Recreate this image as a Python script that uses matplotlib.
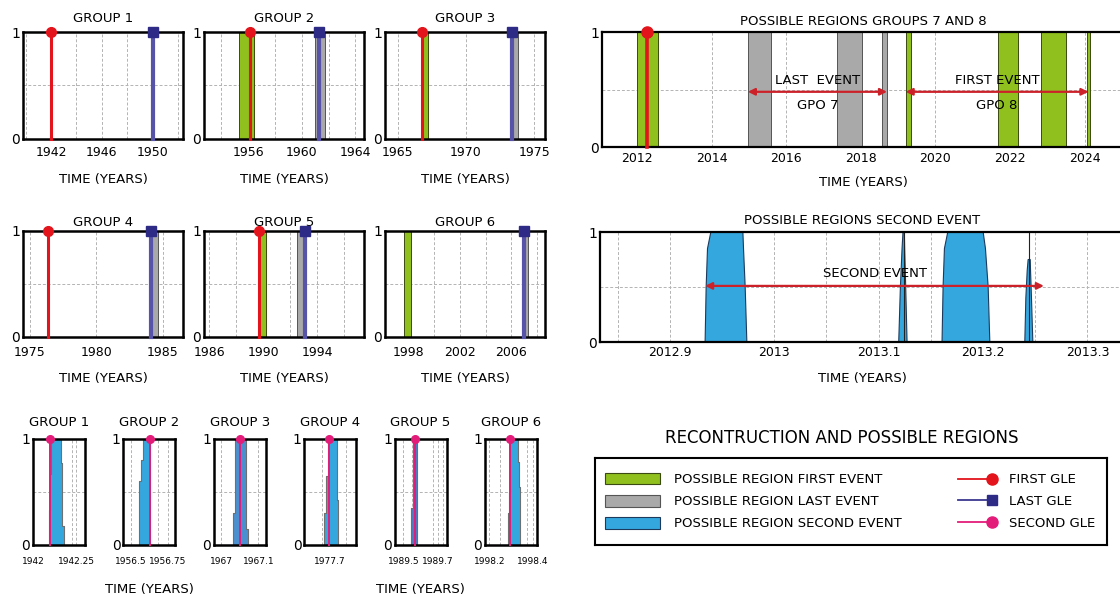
import matplotlib
matplotlib.use("Agg")
import numpy as np
import matplotlib.pyplot as plt
from matplotlib.lines import Line2D
from matplotlib.patches import Patch
from matplotlib.legend_handler import HandlerLine2D

# ---------------- data ----------------
group_names = ["GROUP 1", "GROUP 2", "GROUP 3", "GROUP 4", "GROUP 5", "GROUP 6"]
group_xlim = [(1939.8, 1952.4), (1952.7, 1964.65), (1964.05, 1975.8),
              (1974.5, 1986.5), (1985.6, 1997.5), (1996.2, 2008.6)]
group_ticks = [[1942, 1946, 1950], [1956, 1960, 1964], [1965, 1970, 1975],
               [1975, 1980, 1985], [1986, 1990, 1994], [1998, 2002, 2006]]
group_grid_step = [2, 2, 5, 5, 2, 2]
first_gle = [1942.0, 1956.1, 1966.74, 1976.35, 1989.7, None]
last_gle = [1950.0, 1961.32, 1973.4, 1984.09, 1993.1, 2006.94]
first_region = [None, (1955.35, 1956.4), (1966.67, 1967.18), None, (1989.7, 1990.2), (1997.7, 1998.2)]
last_region = [None, (1961.0, 1961.75), (1973.35, 1973.85), (1984.0, 1984.65), (1992.55, 1993.2), (2006.8, 2007.3)]

# groups 7 and 8
g78_first_gle = 2012.27
g78_first_regions = [(2012.0, 2012.56), (2019.2, 2019.33), (2021.68, 2022.2),
                     (2022.82, 2023.5), (2024.05, 2024.13)]
g78_last_regions = [(2014.97, 2015.59), (2017.35, 2018.03), (2018.56, 2018.7)]
last_event_span = (2014.97, 2018.7)
first_event_span = (2019.2, 2024.1)

# second event regions (x of left / right edge at each height level)
second_levels = [[0, 0.5, 0.85, 1.0], [0, 0.5, 0.85, 1.0], [0, 0.5, 0.85, 1.0], [0, 0.4, 0.65, 0.75]]
second_left = [[2012.9337, 2012.9347, 2012.9360, 2012.9392],
               [2013.1192, 2013.1208, 2013.1224, 2013.1233],
               [2013.1607, 2013.1617, 2013.1630, 2013.1662],
               [2013.2400, 2013.2410, 2013.2423, 2013.2432]]
second_right = [[2012.9737, 2012.9721, 2012.9705, 2012.9699],
                [2013.1272, 2013.1259, 2013.1249, 2013.1246],
                [2013.2065, 2013.2049, 2013.2023, 2013.2001],
                [2013.2477, 2013.2464, 2013.2455, 2013.2452]]
second_edges = [2013.1246, 2013.2445]
second_event_span = (2012.9337, 2013.2583)

# reconstruction panels
narrow_xlim = [(1942.0, 1942.3), (1956.45, 1956.8), (1966.98, 1967.12),
               (1977.62, 1977.78), (1989.45, 1989.75), (1998.18, 1998.42)]
narrow_ticks = [[1942, 1942.25], [1956.5, 1956.75], [1967, 1967.1],
                [1977.7], [1989.5, 1989.7], [1998.2, 1998.4]]
narrow_labels = [["1942", "1942.25"], ["1956.5", "1956.75"], ["1967", "1967.1"],
                 ["1977.7"], ["1989.5", "1989.7"], ["1998.2", "1998.4"]]
narrow_grid = [[1942.1, 1942.225], [1956.5, 1956.68, 1956.75], [1967.0, 1967.05, 1967.1],
               [1977.675, 1977.75], [1989.5, 1989.55, 1989.67, 1989.73], [1998.25, 1998.375]]
second_gle = [1942.1, 1956.626, 1967.051, 1977.697, 1989.565, 1998.294]
recon_y = [[0, 0.18, 0.33, 0.67, 0.77, 1], [0, 0.6, 0.8, 1], [0, 0.15, 0.3, 1],
           [0, 0.3, 0.42, 0.65, 1], [0, 0.35, 1], [0, 0.3, 0.5, 0.55, 0.78, 1]]
recon_left = [[1942.094, 1942.094, 1942.098, 1942.104, 1942.104, 1942.104],
              [1956.555, 1956.569, 1956.585, 1956.585],
              [1967.032, 1967.032, 1967.037, 1967.037],
              [1977.6815, 1977.6866, 1977.6866, 1977.6917, 1977.6917],
              [1989.542, 1989.555, 1989.555],
              [1998.285, 1998.292, 1998.295, 1998.295, 1998.295, 1998.295]]
recon_right = [[1942.179, 1942.169, 1942.169, 1942.169, 1942.160, 1942.160],
               [1956.626, 1956.626, 1956.626, 1956.626],
               [1967.071, 1967.067, 1967.067, 1967.067],
               [1977.7246, 1977.7246, 1977.7195, 1977.7195, 1977.7195],
               [1989.579, 1989.579, 1989.579],
               [1998.343, 1998.343, 1998.343, 1998.335, 1998.331, 1998.331]]

# ---------------- style ----------------
GREEN, GREEN_EDGE = "#8fc01e", "#3b4a12"
GREY, GREY_EDGE = "#a9a9a9", "#555555"
BLUE, BLUE_EDGE = "#34a7df", "#1d3a5c"
RED = "#e3141b"
NAVY, LAVENDER = "#2d2b85", "#5753a8"
PINK = "#e31c79"
ARROW = "#cc2129"
GRID = dict(color="#b3b3b3", lw=0.7, ls=(0, (3, 2)))

W, H = 1120, 597
fig = plt.figure(figsize=(W / 100, H / 100), dpi=100)


def px_axes(x0, y0, x1, y1):
    return fig.add_axes([x0 / W, 1 - y1 / H, (x1 - x0) / W, (y1 - y0) / H])


def style(ax, xlim, ticks, labels, grid_x, tick_fs=9, tick_pad=5, spine_lw=1.8):
    ax.set_xlim(*xlim)
    ax.set_ylim(0, 1)
    ax.set_xticks(ticks)
    ax.set_xticklabels(labels, fontsize=tick_fs)
    ax.set_xticks(grid_x, minor=True)
    ax.set_yticks([0, 1])
    ax.set_yticklabels(["0", "1"], fontsize=10)
    ax.set_yticks([0.5], minor=True)
    ax.tick_params(axis="x", which="both", length=0, pad=tick_pad)
    ax.tick_params(axis="y", which="both", length=0, pad=2)
    ax.grid(which="both", **GRID)
    ax.set_axisbelow(True)
    for s in ax.spines.values():
        s.set_linewidth(spine_lw)
        s.set_zorder(4)


def gle_line(ax, x, color, lw, marker, ms, mcolor):
    ax.plot([x, x], [0, 1], color=color, lw=lw, marker=marker, markevery=[1],
            ms=ms, mfc=mcolor, mec=mcolor, clip_on=False, zorder=5)


# ---- groups 1-6 ----
rows = [(32, 139, 7, 5, 10), (231, 337, 3.5, 6.5, 9)]
for i in range(6):
    r, c = divmod(i, 3)
    y0, y1, tpad, kpad, lpad = rows[r]
    x0 = 23 + c * 181
    ax = px_axes(x0, y0, x0 + 160, y1)
    lo, hi = group_xlim[i]
    step = group_grid_step[i]
    grid_x = np.arange(np.ceil(lo / step) * step, hi, step)
    style(ax, group_xlim[i], group_ticks[i], [str(t) for t in group_ticks[i]], grid_x, tick_pad=kpad)
    if first_region[i]:
        ax.axvspan(*first_region[i], facecolor=GREEN, edgecolor=GREEN_EDGE, lw=0.7)
    if last_region[i]:
        ax.axvspan(*last_region[i], facecolor=GREY, edgecolor=GREY_EDGE, lw=0.7)
    if first_gle[i] is not None:
        gle_line(ax, first_gle[i], RED, 2.2, "o", 7, RED)
    gle_line(ax, last_gle[i], LAVENDER, 3, "s", 6.5, NAVY)
    ax.set_title(group_names[i], fontsize=9.5, pad=tpad)
    ax.set_xlabel("TIME (YEARS)", fontsize=9.5, labelpad=lpad)

# ---- groups 7 and 8 ----
ax = px_axes(602, 32, 1125, 147)
style(ax, (2011.06, 2025.08), list(range(2012, 2025, 2)), [str(t) for t in range(2012, 2025, 2)],
      list(range(2012, 2025, 2)), tick_pad=3.5, spine_lw=1.6)
for a, b in g78_first_regions:
    ax.axvspan(a, b, facecolor=GREEN, edgecolor=GREEN_EDGE, lw=0.7)
for a, b in g78_last_regions:
    ax.axvspan(a, b, facecolor=GREY, edgecolor=GREY_EDGE, lw=0.7)
gle_line(ax, g78_first_gle, RED, 2.6, "o", 8, RED)
arrow = dict(arrowstyle="<|-|>", color=ARROW, lw=1.6, mutation_scale=10, shrinkA=0, shrinkB=0)
for span, top, bottom in [(last_event_span, "LAST  EVENT", "GPO 7"),
                          (first_event_span, "FIRST EVENT", "GPO 8")]:
    ax.annotate("", xy=(span[1], 0.48), xytext=(span[0], 0.48), arrowprops=arrow, zorder=6)
    mid = (span[0] + span[1]) / 2
    ax.text(mid, 0.52, top, ha="center", va="bottom", fontsize=9.5, zorder=6)
    ax.text(mid, 0.42, bottom, ha="center", va="top", fontsize=9.5, zorder=6)
ax.set_title("POSSIBLE REGIONS GROUPS 7 AND 8", fontsize=9.5, pad=5)
ax.set_xlabel("TIME (YEARS)", fontsize=9.5, labelpad=8)

# ---- second event ----
ax = px_axes(600, 232, 1125, 342)
sec_ticks = [2012.9, 2013.0, 2013.1, 2013.2, 2013.3]
style(ax, (2012.833, 2013.336), sec_ticks, ["2012.9", "2013", "2013.1", "2013.2", "2013.3"],
      np.arange(2012.85, 2013.34, 0.05), tick_pad=3, spine_lw=1.6)
for lv, le, ri in zip(second_levels, second_left, second_right):
    ax.fill(le + ri[::-1], lv + lv[::-1], facecolor=BLUE, edgecolor=BLUE_EDGE, lw=0.8, zorder=2)
ax.vlines(second_edges, 0, 1, color="#222222", lw=0.8, zorder=2)
ax.annotate("", xy=(second_event_span[1], 0.51), xytext=(second_event_span[0], 0.51),
            arrowprops=arrow, zorder=6)
ax.text(sum(second_event_span) / 2, 0.56, "SECOND EVENT", ha="center", va="bottom", fontsize=9.5, zorder=6)
ax.set_title("POSSIBLE REGIONS SECOND EVENT", fontsize=9.5, pad=6)
ax.set_xlabel("TIME (YEARS)", fontsize=9.5, labelpad=9)

# ---- reconstruction panels ----
fill_colors = [BLUE, BLUE, "#4a8fd0", BLUE, "#4a7fc4", BLUE]
for i in range(6):
    x0 = 33 + i * 90.4
    ax = px_axes(x0, 439, x0 + 52, 545)
    style(ax, narrow_xlim[i], narrow_ticks[i], narrow_labels[i], narrow_grid[i],
          tick_fs=6.5, tick_pad=9)
    ax.fill_betweenx(recon_y[i], recon_left[i], recon_right[i], step="post",
                     facecolor=fill_colors[i], edgecolor="#6f6f6f", lw=0.8, zorder=2)
    gle_line(ax, second_gle[i], PINK, 1.4, "o", 5.5, PINK)
    ax.set_title(group_names[i], fontsize=9.5, pad=9)
    if i in (1, 4):
        ax.set_xlabel("TIME (YEARS)", fontsize=9.5, labelpad=12)


# ---- legend ----
class EndMarkerHandler(HandlerLine2D):
    def create_artists(self, legend, orig_handle, xdescent, ydescent, width, height, fontsize, trans):
        y = height / 2 - ydescent
        x0, x1 = -xdescent, width - xdescent
        line = Line2D([x0, x1], [y, y], color=orig_handle.get_color(), lw=orig_handle.get_linewidth())
        dot = Line2D([x1 - 3], [y], ls="none", marker=orig_handle.get_marker(),
                     ms=orig_handle.get_markersize(), mfc=orig_handle.get_markerfacecolor(),
                     mec=orig_handle.get_markeredgecolor())
        line.set_transform(trans)
        dot.set_transform(trans)
        return [line, dot]


ax_leg = px_axes(595, 458, 1107, 545)
ax_leg.set_xticks([])
ax_leg.set_yticks([])
for s in ax_leg.spines.values():
    s.set_linewidth(1.5)
region_handles = [Patch(facecolor=GREEN, edgecolor=GREEN_EDGE, lw=0.8, label="POSSIBLE REGION FIRST EVENT"),
                  Patch(facecolor=GREY, edgecolor=GREY_EDGE, lw=0.8, label="POSSIBLE REGION LAST EVENT"),
                  Patch(facecolor=BLUE, edgecolor=BLUE_EDGE, lw=0.8, label="POSSIBLE REGION SECOND EVENT")]
gle_handles = [Line2D([], [], color=RED, lw=1.3, marker="o", ms=8, mfc=RED, mec=RED, label="FIRST GLE"),
               Line2D([], [], color="#3a3890", lw=1.3, marker="s", ms=7, mfc=NAVY, mec=NAVY, label="LAST GLE"),
               Line2D([], [], color=PINK, lw=1.3, marker="o", ms=8, mfc=PINK, mec=PINK, label="SECOND GLE")]
common = dict(frameon=False, fontsize=9.5, borderpad=0, borderaxespad=0, labelspacing=0.67,
              loc="center left", handletextpad=1.0)
leg1 = ax_leg.legend(handles=region_handles, bbox_to_anchor=(0.0195, 0.5), handlelength=4.2,
                     handleheight=1.0, **common)
ax_leg.add_artist(leg1)
ax_leg.legend(handles=gle_handles, bbox_to_anchor=(0.709, 0.5), handlelength=2.9,
              handler_map={Line2D: EndMarkerHandler()}, **common)
ax_leg.set_title("RECONTRUCTION AND POSSIBLE REGIONS", fontsize=12, pad=11, x=0.482)

fig.savefig("out.png", dpi=100)
